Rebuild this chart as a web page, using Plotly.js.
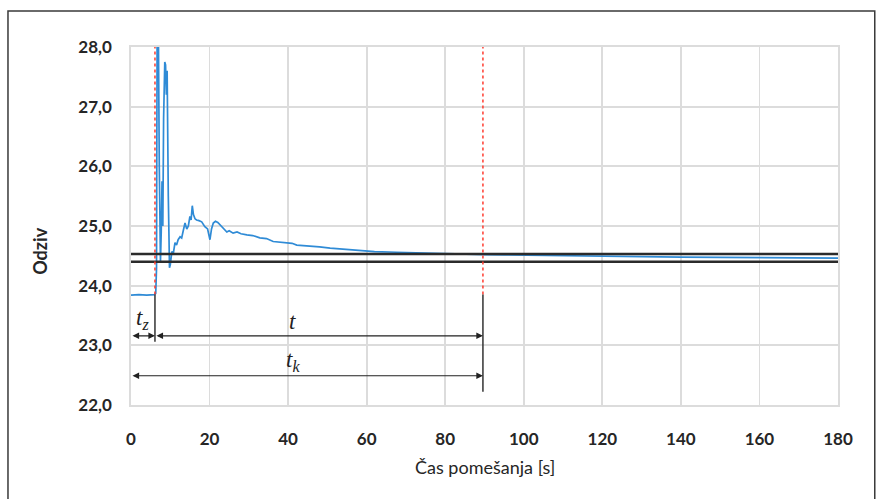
<!DOCTYPE html>
<html>
<head>
<meta charset="utf-8">
<script src="https://cdn.plot.ly/plotly-3.0.1.min.js"></script>
<style>html,body{margin:0;padding:0;background:#fff;}#chart{width:879px;height:499px;}</style>
</head>
<body>
<div id="chart"></div>
<script>
// Response signal (time in s, response)
const timeS = [0, 2, 4, 6.0, 6.3, 6.5, 6.7, 6.9, 7.2, 7.5, 7.7, 7.9, 8.1, 8.3, 8.6, 8.8, 9.0, 9.2, 9.5, 9.8,
  10.0, 10.4, 10.8, 11.2, 11.6, 12.0, 12.5, 12.9, 13.3, 13.75, 14.2, 14.6, 15.0, 15.3, 15.6, 15.9, 16.3, 16.7,
  17.3, 18.0, 18.8, 19.5, 20.1, 20.5, 20.95, 21.5, 22.1, 23.1, 23.7, 24.4, 25.0, 26.0, 27.0, 28.0, 29.5, 31.0,
  32.8, 34.5, 36.2, 38.0, 39.6, 41.0, 42.2, 45, 48, 50.7, 54, 58.3, 62, 67.6, 72, 76, 80.4, 85, 90, 95, 100,
  110, 120, 130, 140, 150, 160, 170, 180];
const response = [23.84, 23.85, 23.84, 23.85, 23.87, 24.3, 29.5, 29.0, 26.0, 24.4, 24.9, 25.75, 25.0, 26.8, 27.75, 27.7, 27.2, 27.6, 25.5, 24.3,
  24.35, 24.57, 24.55, 24.72, 24.68, 24.77, 24.82, 24.8, 24.92, 25.05, 24.95, 25.0, 25.16, 25.1, 25.34, 25.19, 25.12, 25.1,
  25.09, 25.07, 24.99, 24.95, 24.77, 24.95, 25.05, 25.08, 25.06, 24.99, 24.95, 24.9, 24.92, 24.88, 24.9, 24.87, 24.85, 24.84,
  24.8, 24.79, 24.74, 24.73, 24.71, 24.71, 24.68, 24.67, 24.65, 24.63, 24.61, 24.58, 24.57, 24.56, 24.55, 24.545, 24.54, 24.53, 24.52, 24.515, 24.51,
  24.50, 24.49, 24.485, 24.48, 24.475, 24.47, 24.465, 24.46];

// Tolerance band limits
const bandUpper = 24.53;
const bandLower = 24.40;
// Key times
const tDelay = 6.1;      // t_z
const tSettle = 89.6;    // t_k
const baseline = 23.85;
// Arrow levels
const arrowY1 = 23.16;
const arrowY2 = 22.49;

const xTicks = [0, 20, 40, 60, 80, 100, 120, 140, 160, 180];
const yTicks = [22, 23, 24, 25, 26, 27, 28];

const trace = {
  x: timeS, y: response, type: 'scatter', mode: 'lines',
  line: {color: '#2f8bd6', width: 1.7}, hoverinfo: 'skip', showlegend: false
};

const shapes = [
  // outer frame
  {type: 'rect', xref: 'paper', yref: 'paper', x0: -0.174, x1: 1.052, y0: -0.3, y1: 1.1006,
   line: {color: '#3a3a3a', width: 1.5}, fillcolor: 'rgba(0,0,0,0)', layer: 'below'},
  // tolerance band lines
  {type: 'line', xref: 'x', yref: 'y', x0: 0, x1: 180, y0: bandUpper, y1: bandUpper, line: {color: '#2b2b2b', width: 2.5}},
  {type: 'line', xref: 'x', yref: 'y', x0: 0, x1: 180, y0: bandLower, y1: bandLower, line: {color: '#2b2b2b', width: 2.5}},
  // red dashed lines
  {type: 'line', xref: 'x', yref: 'y', x0: tDelay, x1: tDelay, y0: baseline, y1: 28, line: {color: '#ff3b2f', width: 1.5, dash: 'dot'}},
  {type: 'line', xref: 'x', yref: 'y', x0: tSettle, x1: tSettle, y0: baseline, y1: 28, line: {color: '#ff3b2f', width: 1.5, dash: 'dot'}},
  // black vertical markers
  {type: 'line', xref: 'x', yref: 'y', x0: tDelay, x1: tDelay, y0: baseline, y1: 23.06, line: {color: '#333333', width: 1.5}},
  {type: 'line', xref: 'x', yref: 'y', x0: tSettle, x1: tSettle, y0: baseline, y1: 22.22, line: {color: '#333333', width: 1.5}}
];

function dimArrow(xa, xb, y) {
  return {x: xb, y: y, ax: xa, ay: y, xref: 'x', yref: 'y', axref: 'x', ayref: 'y',
    text: '', showarrow: true, arrowhead: 2, startarrowhead: 2, arrowside: 'end+start',
    arrowsize: 1.1, startarrowsize: 1.1, arrowwidth: 1.2, arrowcolor: '#222222'};
}

const labelFont = {family: 'Liberation Serif, DejaVu Serif, serif', size: 23, color: '#222222'};
const annotations = [
  dimArrow(0, tDelay, arrowY1),
  dimArrow(tDelay, tSettle, arrowY1),
  dimArrow(0, tSettle, arrowY2),
  {x: 2.9, y: 23.44, xref: 'x', yref: 'y', text: '<i>t<sub>z</sub></i>', showarrow: false, font: labelFont},
  {x: 41.2, y: 23.40, xref: 'x', yref: 'y', text: '<i>t</i>', showarrow: false, font: labelFont},
  {x: 41.2, y: 22.74, xref: 'x', yref: 'y', text: '<i>t<sub>k</sub></i>', showarrow: false, font: labelFont},
  // axis titles
  {x: 0.5, y: -0.173, xref: 'paper', yref: 'paper', xanchor: 'center', yanchor: 'middle',
   text: 'Čas pomešanja [s]', showarrow: false,
   font: {family: 'Lato, Open Sans, sans-serif', size: 18, color: '#262626'}},
  {x: -0.129, y: 0.43, xref: 'paper', yref: 'paper', xanchor: 'center', yanchor: 'middle',
   text: 'Odziv', showarrow: false, textangle: -90,
   font: {family: 'Lato, Open Sans, sans-serif', size: 18, color: '#262626', weight: 'bold'}}
];

const tickFont = {family: 'Lato, Open Sans, sans-serif', size: 17, color: '#262626', weight: 'bold'};

const layout = {
  width: 879, height: 499,
  margin: {l: 131, r: 41, t: 47, b: 94},
  paper_bgcolor: '#ffffff', plot_bgcolor: '#ffffff',
  separators: ',.',
  showlegend: false,
  xaxis: {
    range: [0, 180], tickvals: xTicks, ticktext: xTicks.map(String),
    showgrid: true, gridcolor: '#dcdcdc', gridwidth: 1.7,
    showline: true, linecolor: '#dcdcdc', linewidth: 1.7, mirror: true,
    zeroline: false, ticks: 'outside', ticklen: 18, tickcolor: 'rgba(0,0,0,0)',
    tickfont: tickFont, fixedrange: true
  },
  yaxis: {
    range: [22, 28], tickvals: yTicks, tickformat: '.1f',
    showgrid: true, gridcolor: '#dcdcdc', gridwidth: 1.7,
    showline: true, linecolor: '#dcdcdc', linewidth: 1.7, mirror: true,
    zeroline: false, ticks: 'outside', ticklen: 14, tickcolor: 'rgba(0,0,0,0)',
    tickfont: tickFont, fixedrange: true
  },
  shapes: shapes,
  annotations: annotations
};

Plotly.newPlot('chart', [trace], layout, {displayModeBar: false, staticPlot: true});
</script>
</body>
</html>
